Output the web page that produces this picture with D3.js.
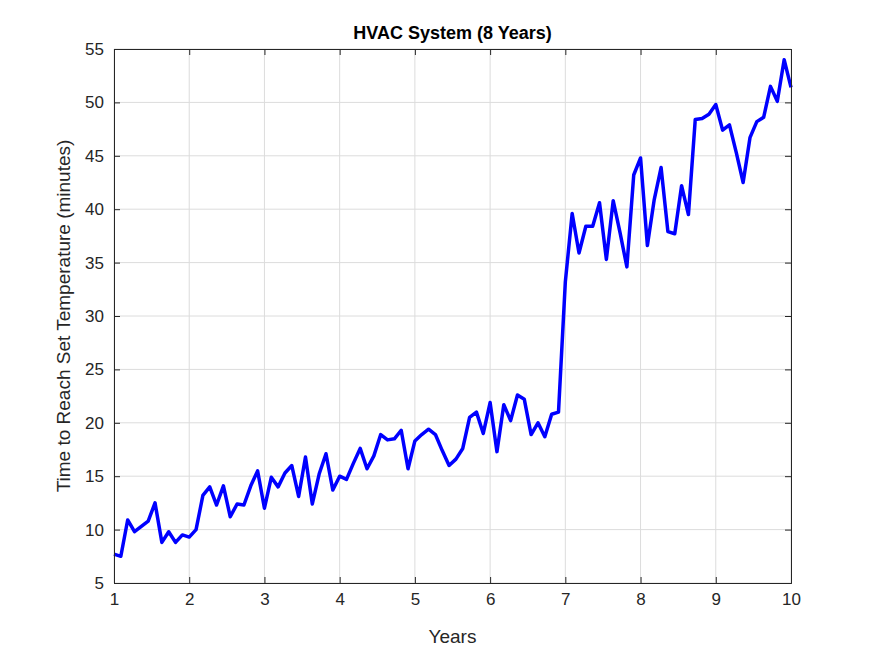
<!DOCTYPE html><html><head><meta charset="utf-8"><script src="https://cdn.jsdelivr.net/npm/d3@7"></script>
<style>body{margin:0;background:#fff}svg{font-family:"Liberation Sans",Arial,sans-serif}</style></head><body>
<svg id="c" width="875" height="656"></svg>
<script>
const values=[7.7,7.5,10.9,9.8,10.3,10.8,12.5,8.8,9.8,8.8,9.5,9.3,10.0,13.2,14.0,12.3,14.1,11.2,12.4,12.3,14.1,15.5,12.0,14.9,14.0,15.3,16.0,13.1,16.8,12.4,15.2,17.1,13.7,15.0,14.7,
16.2,17.6,15.7,16.9,18.9,18.4,18.5,19.3,15.7,18.3,18.9,19.4,18.9,17.4,16.0,16.6,17.6,20.5,21.0,19.0,21.9,17.3,21.7,20.2,22.6,22.2,18.9,20.0,18.7,20.8,21.0,
33.2,39.6,35.9,38.4,38.4,40.6,35.3,40.8,37.8,34.6,43.2,44.8,
36.6,40.9,43.9,37.9,37.7,42.2,39.5,48.4,48.5,48.9,49.8,47.4,47.9,45.3,42.5,46.7,48.2,48.6,51.5,50.1,54.0,51.4];
const xTicks=[1,2,3,4,5,6,7,8,9,10];
const yTicks=[5,10,15,20,25,30,35,40,45,50,55];
const title="HVAC System (8 Years)", xLabel="Years", yLabel="Time to Reach Set Temperature (minutes)";
const svg=d3.select("#c");
const L=114,R=791,T=49,B=583;
const x=d3.scaleLinear().domain([1,10]).range([L,R]);
const y=d3.scaleLinear().domain([5,55]).range([B,T]);
const n=values.length;
const pts=values.map((v,i)=>[1+9*i/(n-1),v]);
svg.append("rect").attr("x",L).attr("y",T).attr("width",R-L).attr("height",B-T).attr("fill","#fff");
const g=svg.append("g");
g.selectAll(".gx").data(xTicks).join("line").attr("x1",d=>x(d)).attr("x2",d=>x(d)).attr("y1",T).attr("y2",B).attr("stroke","#dcdcdc");
g.selectAll(".gy").data(yTicks).join("line").attr("y1",d=>y(d)).attr("y2",d=>y(d)).attr("x1",L).attr("x2",R).attr("stroke","#dcdcdc");
svg.append("path").datum(pts).attr("d",d3.line().x(d=>x(d[0])).y(d=>y(d[1]))).attr("fill","none").attr("stroke","#0000ff").attr("stroke-width",3.5).attr("stroke-linejoin","round");
const ax=svg.append("g").attr("transform",`translate(0,${B})`).call(d3.axisBottom(x).tickValues(xTicks).tickSize(-6).tickPadding(10).tickFormat(d3.format("d")));
const ay=svg.append("g").attr("transform",`translate(${L},0)`).call(d3.axisLeft(y).tickValues(yTicks).tickSize(-6).tickPadding(10));
svg.append("g").attr("transform",`translate(0,${T})`).call(d3.axisTop(x).tickValues(xTicks).tickSize(-6).tickFormat(""));
svg.append("g").attr("transform",`translate(${R},0)`).call(d3.axisRight(y).tickValues(yTicks).tickSize(-6).tickFormat(""));
svg.selectAll(".domain").attr("stroke","#262626");
svg.selectAll(".tick line").attr("stroke","#262626");
svg.selectAll(".tick text").attr("font-size",17).attr("fill","#262626").attr("font-family","Liberation Sans,Arial,sans-serif");
svg.append("text").attr("x",(L+R)/2).attr("y",39).attr("text-anchor","middle").attr("font-weight","bold").attr("font-size",18).attr("fill","#000").text(title);
svg.append("text").attr("x",(L+R)/2).attr("y",643).attr("text-anchor","middle").attr("font-size",19).attr("fill","#262626").text(xLabel);
svg.append("text").attr("transform",`translate(70,${(T+B)/2}) rotate(-90)`).attr("text-anchor","middle").attr("font-size",19).attr("fill","#262626").text(yLabel);
</script></body></html>
